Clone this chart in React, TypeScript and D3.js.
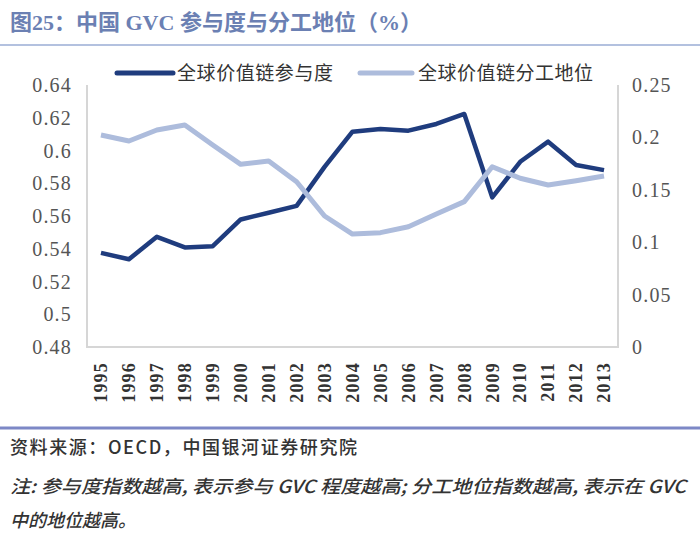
import React from "react";
import * as d3 from "d3";

const years = ["1995","1996","1997","1998","1999","2000","2001","2002","2003","2004","2005","2006","2007","2008","2009","2010","2011","2012","2013"];
const participation = [0.5375,0.5336,0.5473,0.5408,0.5416,0.5579,0.562,0.5662,0.590,0.6115,0.6131,0.6121,0.6162,0.6223,0.5714,0.5931,0.6054,0.5911,0.588];
const position = [0.2023,0.1966,0.2071,0.2118,0.1927,0.1743,0.1775,0.1577,0.125,0.1078,0.1091,0.1148,0.1269,0.1387,0.172,0.161,0.1546,0.1587,0.1632];
const leftTicks = [0.48,0.5,0.52,0.54,0.56,0.58,0.6,0.62,0.64];
const rightTicks = [0,0.05,0.1,0.15,0.2,0.25];
const seriesNames = ["全球价值链参与度","全球价值链分工地位"];
const title = "图25：中国 GVC 参与度与分工地位（%）";
const sourceText = "资料来源：OECD，中国银河证券研究院";
const noteText1 = "注: 参与度指数越高, 表示参与 GVC 程度越高; 分工地位指数越高, 表示在 GVC";
const noteText2 = "中的地位越高。";

const W = 700, H = 539;
const plot = { left: 87, right: 618, top: 85, bottom: 347 };
const DARK = "#1f3c7e";
const LIGHT = "#adbcdc";
const SERIF = "'Liberation Serif', 'Noto Sans CJK SC', serif";
const CJK = "'Noto Sans CJK SC', 'Liberation Serif', sans-serif";

export default function App() {
  const x = d3.scaleBand<string>().domain(years).range([plot.left, plot.right]);
  const cx = (y: string) => (x(y) as number) + x.bandwidth() / 2;
  const yL = d3.scaleLinear().domain([0.48, 0.64]).range([plot.bottom, plot.top]);
  const yR = d3.scaleLinear().domain([0, 0.25]).range([plot.bottom, plot.top]);
  const lineL = d3.line<number>().x((_, i) => cx(years[i])).y((d) => yL(d));
  const lineR = d3.line<number>().x((_, i) => cx(years[i])).y((d) => yR(d));
  const fmt = (v: number) => String(+v.toFixed(2));
  const tickStyle = { fontFamily: "'Liberation Serif', serif", fontSize: 20, letterSpacing: 1.2, fontWeight: 500 } as React.CSSProperties;

  return (
    <div style={{ position: "absolute", left: 0, top: 0 }}>
      <svg width={W} height={H} style={{ display: "block", background: "#fff" }}>
        <text x={10} y={30} style={{ fontFamily: SERIF, fontWeight: "bold", fontSize: 22 }} fill="#6b80b3">{title}</text>
        <line x1={0} x2={W} y1={45} y2={45} stroke="#b3c1df" strokeWidth={2} />

        {/* legend */}
        <line x1={117} x2={173} y1={73} y2={73} stroke={DARK} strokeWidth={5} strokeLinecap="round" />
        <text x={177} y={80} style={{ fontFamily: CJK, fontSize: 19 }} fill="#333" textLength={156}>{seriesNames[0]}</text>
        <line x1={360} x2={412} y1={73} y2={73} stroke={LIGHT} strokeWidth={5} strokeLinecap="round" />
        <text x={418} y={80} style={{ fontFamily: CJK, fontSize: 19 }} fill="#333" textLength={175}>{seriesNames[1]}</text>

        {/* frame */}
        <path d={`M${plot.left},${plot.top} V${plot.bottom} H${plot.right} V${plot.top}`} fill="none" stroke="#d6d6d6" strokeWidth={2} />

        {leftTicks.map((t) => (
          <text key={"l" + t} x={72} y={yL(t)} dy="0.35em" textAnchor="end" style={tickStyle} fill="#555">{fmt(t)}</text>
        ))}
        {rightTicks.map((t) => (
          <text key={"r" + t} x={632} y={yR(t)} dy="0.35em" textAnchor="start" style={tickStyle} fill="#555">{fmt(t)}</text>
        ))}
        {years.map((y) => (
          <text key={y} transform={`translate(${cx(y)},362) rotate(-90)`} textAnchor="end" dy="0.35em" style={{ fontFamily: "'Liberation Serif', serif", fontSize: 18, letterSpacing: 1.2, fontWeight: 600 }} fill="#333">{y}</text>
        ))}

        <path d={lineL(participation) || ""} fill="none" stroke={DARK} strokeWidth={4.5} strokeLinejoin="round" />
        <path d={lineR(position) || ""} fill="none" stroke={LIGHT} strokeWidth={5} strokeLinejoin="round" />

        <line x1={0} x2={W} y1={428} y2={428} stroke="#7d88c6" strokeWidth={3} />
        <text x={10} y={454} style={{ fontFamily: CJK, fontSize: 18, fontWeight: 500 }} fill="#333" textLength={347}>{sourceText}</text>
        <text x={10} y={493} style={{ fontFamily: CJK, fontSize: 18, fontWeight: 500, fontStyle: "italic" }} fill="#333" textLength={676} lengthAdjust="spacingAndGlyphs">{noteText1}</text>
        <text x={10} y={527} style={{ fontFamily: CJK, fontSize: 18, fontWeight: 500, fontStyle: "italic" }} fill="#333">{noteText2}</text>
      </svg>
    </div>
  );
}
